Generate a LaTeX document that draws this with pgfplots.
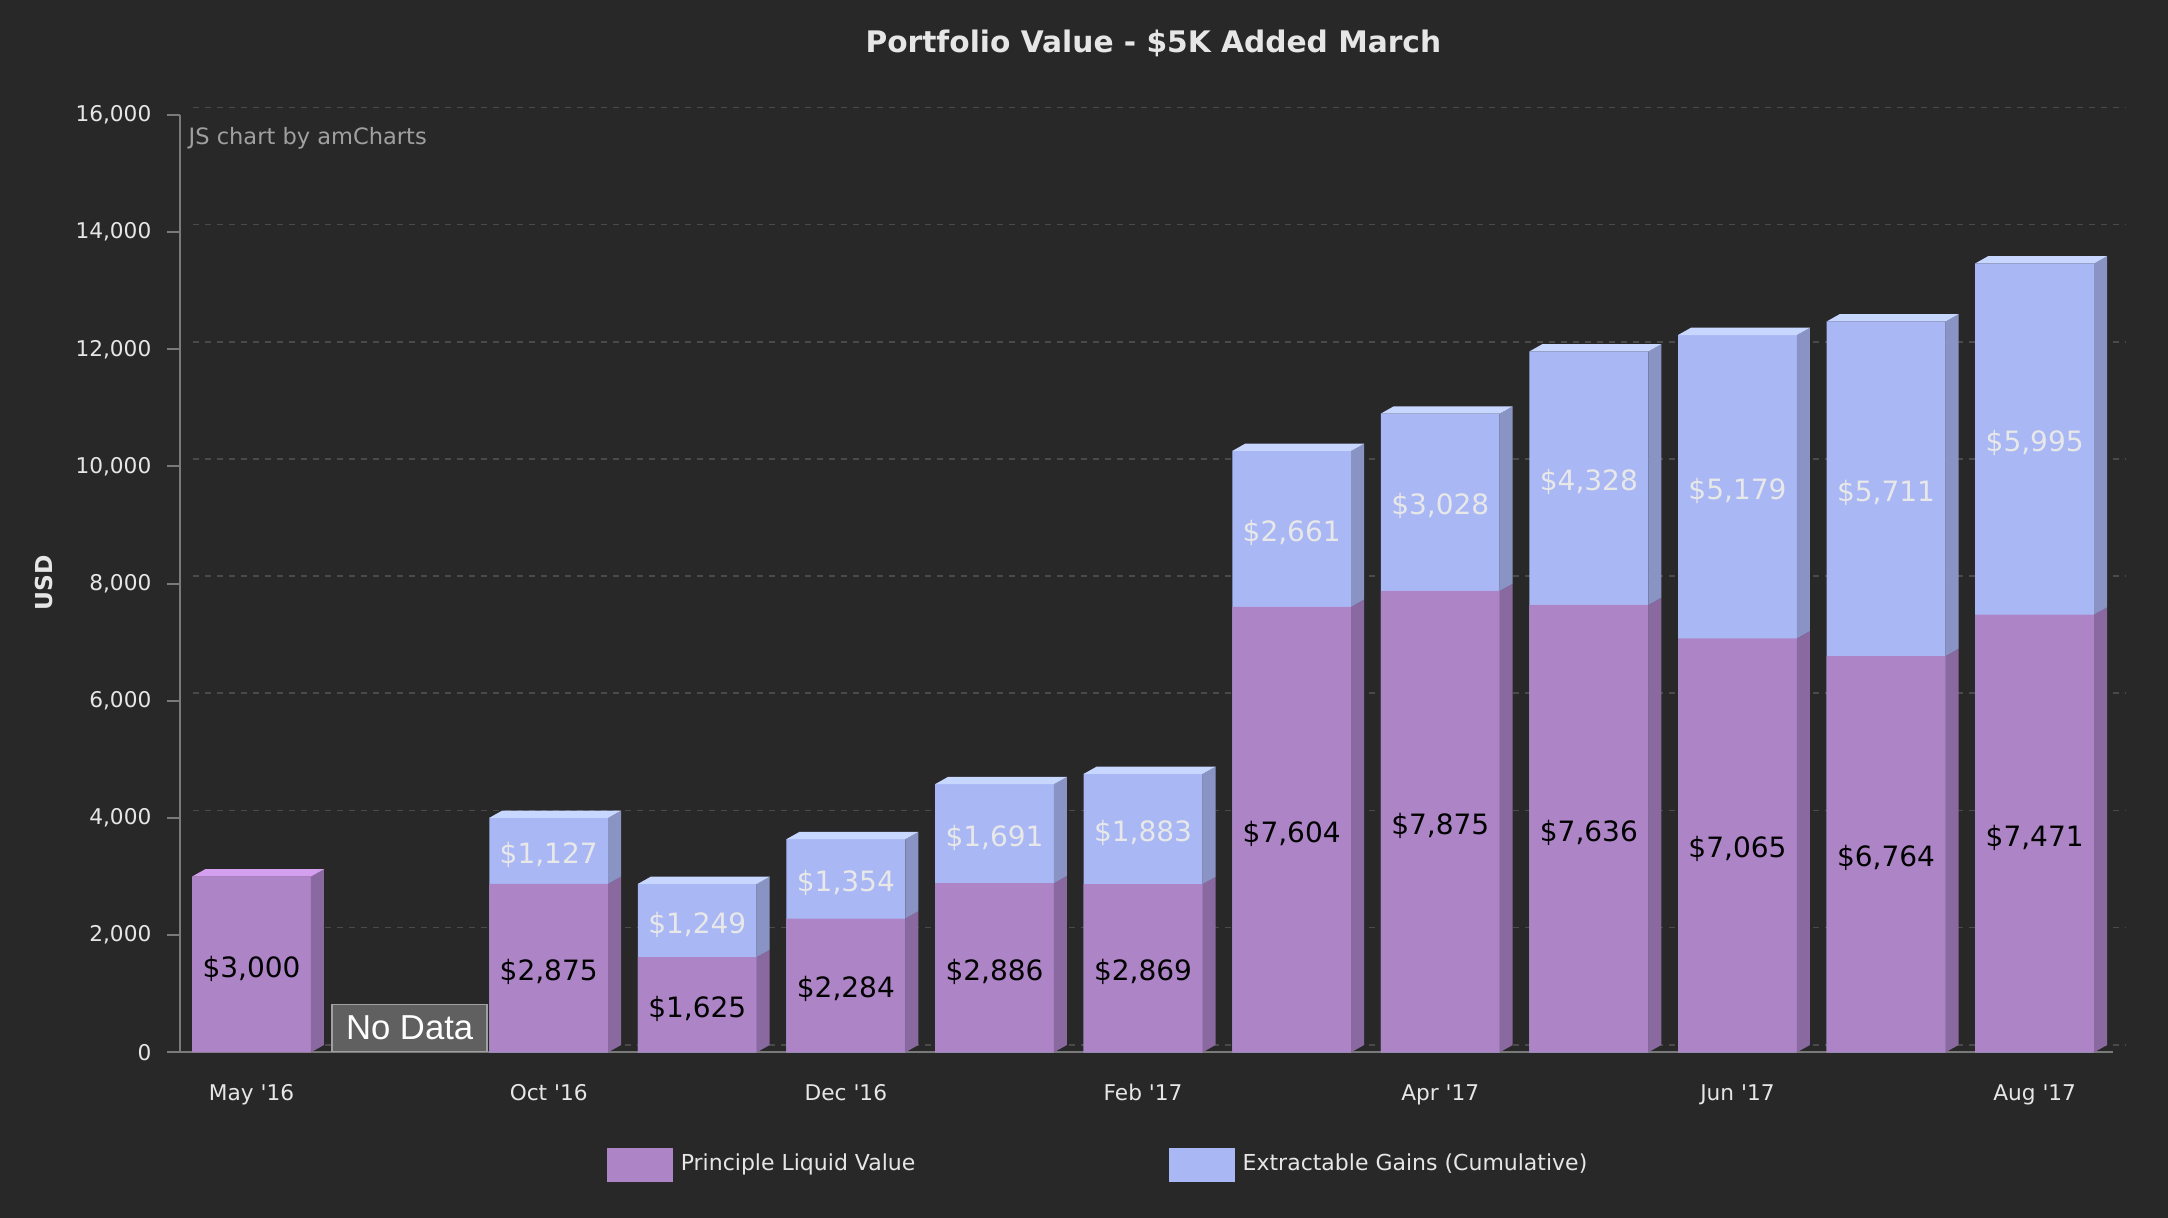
\documentclass[border=0pt]{standalone}
\usepackage{pgfplots}
\pgfplotsset{compat=1.18}
\usepackage{fontspec}
\setmainfont{DejaVu Sans}[Ligatures=TeXOff]
\newfontfamily\arialfont{Liberation Sans}
\definecolor{bg}{HTML}{282828}
\definecolor{purpleF}{HTML}{AD84C6}
\definecolor{purpleS}{HTML}{8A68A0}
\definecolor{purpleT}{HTML}{D49FEF}
\definecolor{blueF}{HTML}{A9B8F5}
\definecolor{blueS}{HTML}{8994C5}
\definecolor{blueT}{HTML}{C8D7FF}
\definecolor{gridc}{HTML}{4A4A4A}
\definecolor{axc}{HTML}{7A7A7A}
\definecolor{tickc}{HTML}{E6E6E6}
\definecolor{lightlab}{HTML}{E8E8E8}
\definecolor{wmc}{HTML}{A0A0A0}
\definecolor{nodataF}{HTML}{606060}
\definecolor{nodataB}{HTML}{A0A0A0}
\begin{document}
\begin{tikzpicture}
\useasboundingbox (0,0) rectangle (650.4pt,365.4pt);
\fill[bg] (0,0) rectangle (650.4pt,365.4pt);
\begin{axis}[
  at={(53.9pt,49.7pt)}, anchor=south west,
  scale only axis, width=579.9pt, height=281.2pt,
  xmin=-0.4835, xmax=12.525, ymin=0, ymax=16000,
  clip=false,
  axis lines*=left,
  axis line style={draw=axc, line width=0.6pt, -},
  every outer x axis line/.append style={-},
  every outer y axis line/.append style={-},
  ytick={0,2000,...,16000},
  scaled y ticks=false,
  /pgf/number format/1000 sep={,},
  /pgf/number format/assume math mode=true,
  tick align=outside,
  major tick length=3.8pt,
  ytick style={draw=axc, line width=0.6pt},
  xtick={0,2,4,6,8,10,12},
  xticklabels={May '16, Oct '16, Dec '16, Feb '17, Apr '17, Jun '17, Aug '17},
  xtick style={draw=none},
  tick label style={font=\fontsize{6.5}{7.8}\selectfont, text=tickc},
  yticklabel style={anchor=east, inner sep=0pt, xshift=-4.5pt},
  xticklabel style={anchor=base, inner sep=0pt, yshift=-10.6pt},
  ymajorgrids,
  major grid style={draw=gridc, line width=0.5pt, dash pattern=on 1.8pt off 1.8pt, xshift=3.9pt, yshift=2.25pt},
  legend columns=2,
  legend image code/.code={\fill[#1, draw=none] (0pt,-5.1pt) rectangle (19.8pt,5.1pt);},
  legend style={at={(0.4746,0)}, anchor=center, yshift=-33.8pt, draw=none, fill=none,
    text=tickc, font=\fontsize{6.6}{8}\selectfont, nodes={inner sep=0pt},
    /tikz/every odd column/.append style={column sep=2.4pt},
    /tikz/every even column/.append style={column sep=76pt}},
]
% front faces
\addplot[ybar, bar width=0.8, bar shift=0, fill=blueF, draw=none, forget plot] coordinates
 {(2,4002)(3,2874)(4,3638)(5,4577)(6,4752)(7,10265)(8,10903)(9,11964)(10,12244)(11,12475)(12,13466)};
\addplot[ybar, bar width=0.8, bar shift=0, fill=purpleF, draw=none, forget plot] coordinates
 {(0,3000)(2,2875)(3,1625)(4,2284)(5,2886)(6,2869)(7,7604)(8,7875)(9,7636)(10,7065)(11,6764)(12,7471)};
% side faces (purple)
\addplot[fill=purpleS, draw=none, unbounded coords=jump, forget plot] coordinates {
 (0.4,0)(0.4875,125)(0.4875,3125)(0.4,3000) (0.5,nan)
 (2.4,0)(2.4875,125)(2.4875,3000)(2.4,2875) (2.5,nan)
 (3.4,0)(3.4875,125)(3.4875,1750)(3.4,1625) (3.5,nan)
 (4.4,0)(4.4875,125)(4.4875,2409)(4.4,2284) (4.5,nan)
 (5.4,0)(5.4875,125)(5.4875,3011)(5.4,2886) (5.5,nan)
 (6.4,0)(6.4875,125)(6.4875,2994)(6.4,2869) (6.5,nan)
 (7.4,0)(7.4875,125)(7.4875,7729)(7.4,7604) (7.5,nan)
 (8.4,0)(8.4875,125)(8.4875,8000)(8.4,7875) (8.5,nan)
 (9.4,0)(9.4875,125)(9.4875,7761)(9.4,7636) (9.5,nan)
 (10.4,0)(10.4875,125)(10.4875,7190)(10.4,7065) (10.5,nan)
 (11.4,0)(11.4875,125)(11.4875,6889)(11.4,6764) (11.5,nan)
 (12.4,0)(12.4875,125)(12.4875,7596)(12.4,7471)
};
% side faces (blue)
\addplot[fill=blueS, draw=none, unbounded coords=jump, forget plot] coordinates {
 (2.4,2875)(2.4875,3000)(2.4875,4127)(2.4,4002) (2.5,nan)
 (3.4,1625)(3.4875,1750)(3.4875,2999)(3.4,2874) (3.5,nan)
 (4.4,2284)(4.4875,2409)(4.4875,3763)(4.4,3638) (4.5,nan)
 (5.4,2886)(5.4875,3011)(5.4875,4702)(5.4,4577) (5.5,nan)
 (6.4,2869)(6.4875,2994)(6.4875,4877)(6.4,4752) (6.5,nan)
 (7.4,7604)(7.4875,7729)(7.4875,10390)(7.4,10265) (7.5,nan)
 (8.4,7875)(8.4875,8000)(8.4875,11028)(8.4,10903) (8.5,nan)
 (9.4,7636)(9.4875,7761)(9.4875,12089)(9.4,11964) (9.5,nan)
 (10.4,7065)(10.4875,7190)(10.4875,12369)(10.4,12244) (10.5,nan)
 (11.4,6764)(11.4875,6889)(11.4875,12600)(11.4,12475) (11.5,nan)
 (12.4,7471)(12.4875,7596)(12.4875,13591)(12.4,13466)
};
% top faces
\addplot[fill=purpleT, draw=none, forget plot] coordinates {
 (-0.4,3000)(0.4,3000)(0.4875,3125)(-0.3125,3125)
};
\addplot[fill=blueT, draw=none, unbounded coords=jump, forget plot] coordinates {
 (1.6,4002)(2.4,4002)(2.4875,4127)(1.6875,4127) (2.5,nan)
 (2.6,2874)(3.4,2874)(3.4875,2999)(2.6875,2999) (3.5,nan)
 (3.6,3638)(4.4,3638)(4.4875,3763)(3.6875,3763) (4.5,nan)
 (4.6,4577)(5.4,4577)(5.4875,4702)(4.6875,4702) (5.5,nan)
 (5.6,4752)(6.4,4752)(6.4875,4877)(5.6875,4877) (6.5,nan)
 (6.6,10265)(7.4,10265)(7.4875,10390)(6.6875,10390) (7.5,nan)
 (7.6,10903)(8.4,10903)(8.4875,11028)(7.6875,11028) (8.5,nan)
 (8.6,11964)(9.4,11964)(9.4875,12089)(8.6875,12089) (9.5,nan)
 (9.6,12244)(10.4,12244)(10.4875,12369)(9.6875,12369) (10.5,nan)
 (10.6,12475)(11.4,12475)(11.4875,12600)(10.6875,12600) (11.5,nan)
 (11.6,13466)(12.4,13466)(12.4875,13591)(11.6875,13591)
};
% value labels
\addplot[only marks, mark=none, forget plot, nodes near coords, point meta=explicit symbolic,
  every node near coord/.append style={anchor=center, inner sep=0pt, yshift=-1.2pt, text=black, font=\fontsize{8.4}{10}\selectfont}]
 coordinates {(0,1500)[\$3,000] (2,1437.5)[\$2,875] (3,812.5)[\$1,625] (4,1142)[\$2,284]
  (5,1443)[\$2,886] (6,1434.5)[\$2,869] (7,3802)[\$7,604] (8,3937.5)[\$7,875]
  (9,3818)[\$7,636] (10,3532.5)[\$7,065] (11,3382)[\$6,764] (12,3735.5)[\$7,471]};
\addplot[only marks, mark=none, forget plot, nodes near coords, point meta=explicit symbolic,
  every node near coord/.append style={anchor=center, inner sep=0pt, yshift=-1.2pt, text=lightlab, font=\fontsize{8.4}{10}\selectfont}]
 coordinates {(2,3438.5)[\$1,127] (3,2249.5)[\$1,249] (4,2961)[\$1,354] (5,3731.5)[\$1,691]
  (6,3810.5)[\$1,883] (7,8934.5)[\$2,661] (8,9389)[\$3,028] (9,9800)[\$4,328]
  (10,9654.5)[\$5,179] (11,9619.5)[\$5,711] (12,10468.5)[\$5,995]};
\addlegendimage{fill=purpleF, draw=none}
\addlegendentry{Principle Liquid Value}
\addlegendimage{fill=blueF, draw=none}
\addlegendentry{Extractable Gains (Cumulative)}
\end{axis}
\node[anchor=center, text=tickc, font=\bfseries\fontsize{8.9}{10}\selectfont] at (346pt,352.5pt) {Portfolio Value - \$5K Added March};
\node[anchor=west, text=wmc, font=\fontsize{6.76}{8}\selectfont, inner sep=0pt] at (56.4pt,324pt) {JS chart by amCharts};
\node[rotate=90, anchor=center, text=tickc, font=\bfseries\fontsize{7}{8}\selectfont] at (13.2pt,190.5pt) {USD};
\node[fill=nodataF, draw=nodataB, line width=0.5pt, minimum width=46.5pt, minimum height=14.1pt,
  anchor=south, text=white, font=\arialfont\fontsize{10.4}{11}\selectfont, inner sep=0pt] at (122.9pt,49.7pt) {No Data};
\end{tikzpicture}
\end{document}
